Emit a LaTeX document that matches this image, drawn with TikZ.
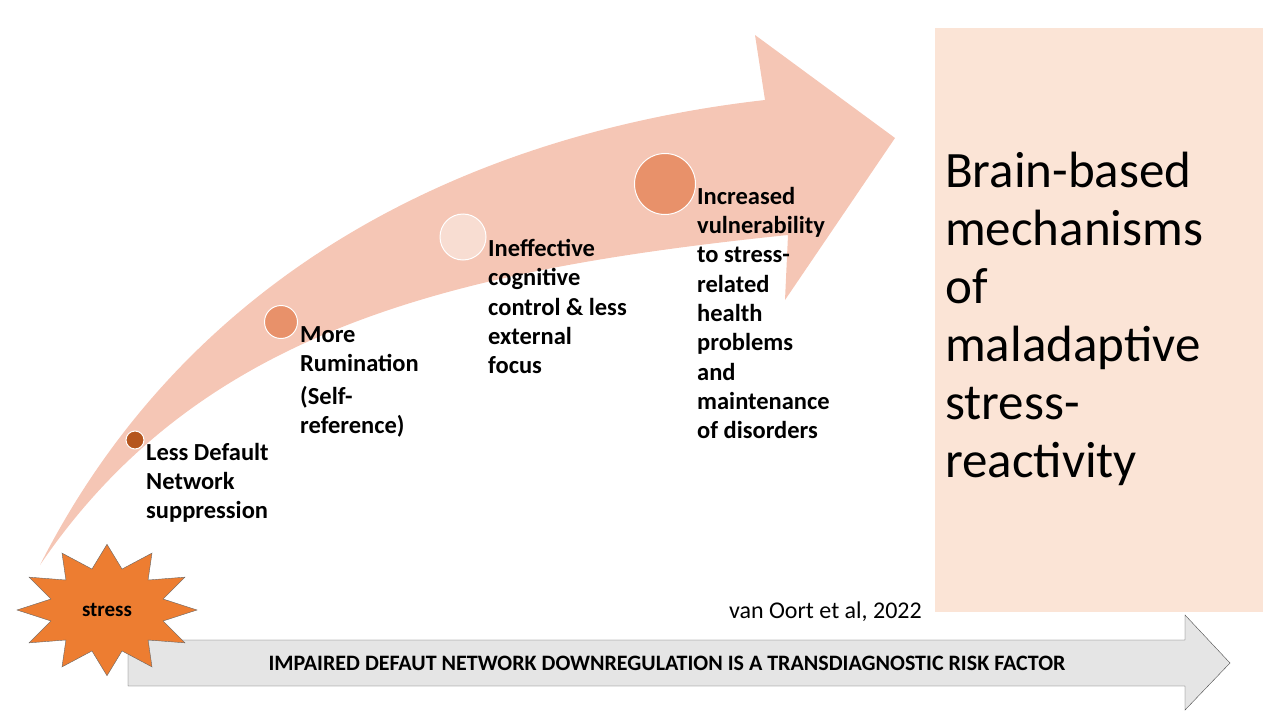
\documentclass[tikz,border=0pt]{standalone}
\usepackage{fontspec}
\setmainfont{Carlito}
\usetikzlibrary{shapes.geometric,positioning}
\definecolor{arrowpink}{HTML}{F5C6B5}
\definecolor{boxpink}{HTML}{FBE4D6}
\definecolor{dotmid}{HTML}{E8916A}
\definecolor{dotdark}{HTML}{B5561F}
\definecolor{dotlight}{HTML}{F8DDD2}
\definecolor{starorange}{HTML}{ED7D31}
\begin{document}
\begin{tikzpicture}
	[   x=1pt,y=-1pt,
	    stage/.style={anchor=north west,inner sep=0pt,align=left,font=\fontsize{24.5}{29.3}\selectfont\bfseries},
	    dot/.style={circle,fill=#1,draw=white,line width=1pt,inner sep=0pt},
	]
	\useasboundingbox (0,0) rectangle (1280,720);
	% curved arrow
	\fill[arrowpink] (40,565) .. controls (200,250) and (500,130) .. (765,100)
		-- (755,35) -- (895,138) -- (785,300) -- (788,235)
		.. controls (450,270) and (200,330) .. (40,565) -- cycle;
	% right box
	\node[fill=boxpink,minimum width=328pt,minimum height=584pt,anchor=north west,inner sep=0pt] (box) at (935,28) {};
	\node[anchor=north west,inner sep=0pt,align=left,font=\fontsize{51}{58}\selectfont] (title) at (945,152)
		{Brain-based\\mechanisms\\of\\maladaptive\\stress-\\reactivity};
	% dots
	\node[dot=dotdark,minimum size=18pt] (d1) at (135,440) {};
	\node[dot=dotmid,minimum size=33pt] (d2) at (281,322) {};
	\node[dot=dotlight,minimum size=46pt] (d3) at (463,237) {};
	\node[dot=dotmid,minimum size=61pt] (d4) at (665,184) {};
	% labels
	\node[stage] (s1) at (146,443) {Less Default\\Network\\suppression};
	\node[stage] (s2) at (300,326) {More\\Rumination\\[4pt](Self-\\reference)};
	\node[stage] (s3) at (488,239) {Ineffective\\cognitive\\control \& less\\external\\focus};
	\node[stage] (s4) at (697,187) {Increased\\vulnerability\\to stress-\\related\\health\\problems\\and\\maintenance\\of disorders};
	% bottom arrow
	\draw[draw=black!70,fill=black!10] (128,640) -- (1185,640) -- (1185,615) -- (1230,663)
		-- (1185,710) -- (1185,686) -- (128,686) -- cycle;
	\node[font=\fontsize{22}{24}\selectfont\bfseries] (risk) at (667,663)
		{IMPAIRED DEFAUT NETWORK DOWNREGULATION IS A TRANSDIAGNOSTIC RISK FACTOR};
	% stress star
	\node[star,star points=12,star point ratio=1.55,minimum size=180pt,yscale=0.73,transform shape,
		fill=starorange,draw=black!60,inner sep=0pt] (burst) at (107,610) {};
	\node[font=\fontsize{21}{24}\selectfont\bfseries] (stress) at (burst.center) {stress};
	\node[anchor=south east,font=\fontsize{24}{26}\selectfont,inner sep=0pt] (cite) at (922,622) {van Oort et al, 2022};
\end{tikzpicture}
\end{document}
